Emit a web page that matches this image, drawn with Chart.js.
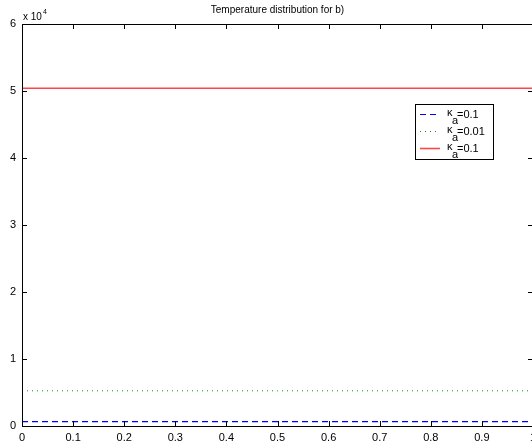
<!DOCTYPE html>
<html>
<head>
<meta charset="utf-8">
<script src="https://cdn.jsdelivr.net/npm/chart.js@4/dist/chart.umd.min.js"></script>
<style>
  html, body { margin: 0; padding: 0; background: #fff; overflow: hidden; }
  #wrap { width: 545px; height: 445px; }
</style>
</head>
<body>
<div id="wrap"><canvas id="tempChart" width="545" height="445"></canvas></div>
<script>
// Data
const xValues = [0, 0.1, 0.2, 0.3, 0.4, 0.5, 0.6, 0.7, 0.8, 0.9, 1];
const kappaDashed = [650, 650, 650, 650, 650, 650, 650, 650, 650, 650, 650];
const kappaDotted = [5250, 5250, 5250, 5250, 5250, 5250, 5250, 5250, 5250, 5250, 5250];
const kappaSolid = [50400, 50400, 50400, 50400, 50400, 50400, 50400, 50400, 50400, 50400, 50400];
const seriesLabels = ['0.1', '0.01', '0.1'];
const xTicks = [0, 0.1, 0.2, 0.3, 0.4, 0.5, 0.6, 0.7, 0.8, 0.9, 1];
const yTicks = [0, 10000, 20000, 30000, 40000, 50000, 60000];

const FONT = '"Liberation Sans", Arial, sans-serif';

function toPoints(ys) {
  return xValues.map((x, i) => ({ x: x, y: ys[i] }));
}

// Box, inward ticks, exponent label, title and legend (MATLAB look)
const matlabFrame = {
  id: 'matlabFrame',
  afterDraw(chart) {
    const ctx = chart.ctx;
    const a = chart.chartArea;
    const xs = chart.scales.x;
    const ys = chart.scales.y;
    ctx.save();
    ctx.strokeStyle = '#000';
    ctx.lineWidth = 1;
    ctx.setLineDash([]);
    ctx.beginPath();
    ctx.rect(Math.round(a.left) + 0.5, Math.round(a.top) + 0.5,
      Math.round(a.right - a.left), Math.round(a.bottom - a.top));
    ctx.stroke();

    ctx.beginPath();
    xTicks.forEach(v => {
      const px = Math.round(xs.getPixelForValue(v)) + 0.5;
      ctx.moveTo(px, a.bottom); ctx.lineTo(px, a.bottom - 5);
      ctx.moveTo(px, a.top); ctx.lineTo(px, a.top + 5);
    });
    yTicks.forEach(v => {
      const py = Math.round(ys.getPixelForValue(v)) + 0.5;
      ctx.moveTo(a.left, py); ctx.lineTo(a.left + 5, py);
      ctx.moveTo(a.right, py); ctx.lineTo(a.right - 5, py);
    });
    ctx.stroke();

    // exponent label
    ctx.fillStyle = '#000';
    ctx.textBaseline = 'alphabetic';
    ctx.textAlign = 'left';
    ctx.font = '10px ' + FONT;
    ctx.fillText('x 10', 23, 20);
    const w10 = ctx.measureText('x 10').width;
    ctx.font = '7px ' + FONT;
    ctx.fillText('4', 23 + w10 + 1, 14);

    // title
    ctx.font = '10px ' + FONT;
    ctx.textAlign = 'center';
    ctx.fillText('Temperature distribution for b)', (a.left + a.right) / 2, 13);

    // legend
    const lx = 415, ly = 104, lw = 78, lh = 55;
    ctx.fillStyle = '#fff';
    ctx.fillRect(lx, ly, lw, lh);
    ctx.strokeStyle = '#000';
    ctx.strokeRect(lx + 0.5, ly + 0.5, lw, lh);
    const rows = [114, 131, 148];
    chart.data.datasets.forEach((ds, i) => {
      const ry = rows[i] + 0.5;
      ctx.strokeStyle = ds.borderColor;
      ctx.lineWidth = ds.borderWidth;
      ctx.setLineDash(ds.borderDash || []);
      ctx.beginPath();
      ctx.moveTo(420, ry); ctx.lineTo(440, ry);
      ctx.stroke();
      ctx.setLineDash([]);
      ctx.fillStyle = '#000';
      ctx.textAlign = 'left';
      ctx.font = '11px ' + FONT;
      ctx.fillText('\u03ba', 447, rows[i] + 2);
      ctx.fillText('a', 452, rows[i] + 10);
      ctx.fillText('=' + seriesLabels[i], 457, rows[i] + 4);
    });
    ctx.restore();
  }
};

new Chart(document.getElementById('tempChart'), {
  type: 'line',
  data: {
    datasets: [
      {
        label: '\u03ba_a=' + seriesLabels[0],
        data: toPoints(kappaDashed),
        borderColor: 'rgb(0,0,255)',
        borderWidth: 1.2,
        borderDash: [6, 4],
        pointRadius: 0,
        fill: false
      },
      {
        label: '\u03ba_a=' + seriesLabels[1],
        data: toPoints(kappaDotted),
        borderColor: 'rgb(0,150,0)',
        borderWidth: 1,
        borderDash: [1, 4],
        pointRadius: 0,
        fill: false
      },
      {
        label: '\u03ba_a=' + seriesLabels[2],
        data: toPoints(kappaSolid),
        borderColor: 'rgb(255,70,70)',
        borderWidth: 1.6,
        pointRadius: 0,
        fill: false
      }
    ]
  },
  options: {
    responsive: false,
    animation: false,
    layout: { autoPadding: false, padding: { top: 24, right: 12, left: 0, bottom: 0 } },
    plugins: { legend: { display: false }, title: { display: false }, tooltip: { enabled: false } },
    scales: {
      x: {
        type: 'linear',
        min: 0,
        max: 1,
        afterBuildTicks: s => { s.ticks = xTicks.map(v => ({ value: v })); },
        afterFit: s => { s.height = 19; },
        grid: { display: false, drawTicks: false },
        border: { display: false },
        ticks: {
          color: '#000',
          padding: 5,
          maxRotation: 0,
          autoSkip: false,
          font: { family: FONT, size: 11 },
          callback: v => String(Math.round(v * 10) / 10)
        }
      },
      y: {
        type: 'linear',
        min: 0,
        max: 60000,
        afterBuildTicks: s => { s.ticks = yTicks.map(v => ({ value: v })); },
        afterFit: s => { s.width = 22; },
        grid: { display: false, drawTicks: false },
        border: { display: false },
        ticks: {
          color: '#000',
          padding: 6,
          autoSkip: false,
          font: { family: FONT, size: 11 },
          callback: v => String(v / 10000)
        }
      }
    }
  },
  plugins: [matlabFrame]
});
</script>
</body>
</html>
